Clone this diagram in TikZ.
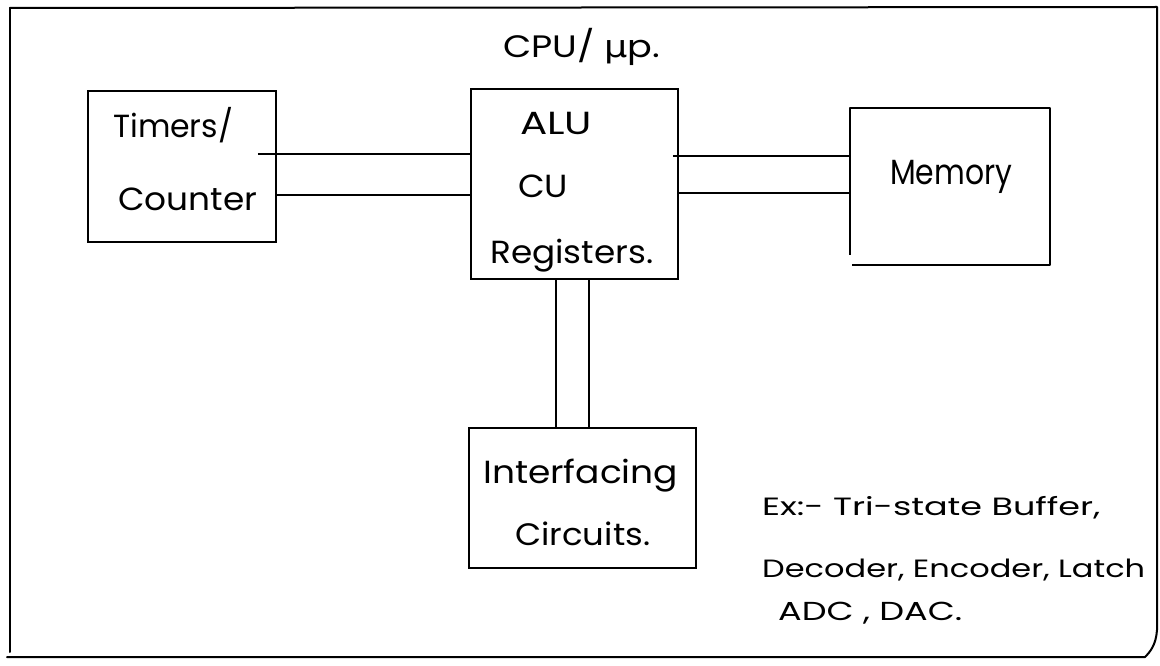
\documentclass[tikz,border=0pt]{standalone}
\usepackage{fontspec}
\usepackage{graphicx}
\setmainfont{Poppins}
\newfontfamily\dvsans{DejaVu Sans}
\usetikzlibrary{calc}
\newlength\hwlen
\newcommand\fitw[2]{\settowidth{\hwlen}{#2}\pgfmathsetmacro\hwr{#1/\hwlen}\scalebox{\hwr}[1]{#2}}
\tikzset{
  box/.style={draw, line width=1.8pt, inner sep=0pt, anchor=north west},
  boxline/.style={line width=1.8pt, line join=round},
  wire/.style={line width=1.5pt},
  frame/.style={line width=2pt, line cap=round, line join=round},
  lbl/.style={anchor=base west, inner sep=0pt, font=\fontsize{#1}{#1}\selectfont},
}
\begin{document}
\begin{tikzpicture}[x=1pt,y=-1pt]
\useasboundingbox[fill=white] (0,0) rectangle (1160,666);
% outer frame
\coordinate (ftl) at (10,8);
\coordinate (ftr) at (1157,7);
\coordinate (fbr) at (1145,657);
\coordinate (fbl) at (7,657);
\draw[frame] (ftl) -- (ftr) -- (1157,630) .. controls (1156,645) and (1150,652) .. (fbr) -- (fbl);
\draw[frame] (ftl) -- (10,652);
% boxes
\node[box, minimum width=188pt, minimum height=151pt] (tim) at (87,90) {};
\node[box, minimum width=207pt, minimum height=190pt] (cpu) at (470,88) {};
\node[box, draw=none, minimum width=198pt, minimum height=155pt] (mem) at (850,108) {};
\draw[boxline] ([yshift=10pt]mem.south west) -- (mem.north west) -- (mem.north east) -- (mem.south east) -- ([xshift=2pt]mem.south west);
\node[box, minimum width=227pt, minimum height=140pt] (int) at (468,427) {};
% connectors
\draw[wire] ($(tim.east|-0,154)+(-19,0)$) -- (cpu.west|-0,154);
\draw[wire] (tim.east|-0,195) -- (cpu.west|-0,195);
\draw[wire] ($(cpu.east|-0,156)+(-6,0)$) -- (mem.west|-0,156);
\draw[wire] (cpu.east|-0,193) -- (mem.west|-0,193);
\draw[wire] (cpu.south-|556,0) -- (int.north-|556,0);
\draw[wire] (cpu.south-|589,0) -- (int.north-|589,0);
% labels
\node[lbl=32] (tTimers) at (113,138) {\fitw{120pt}{Timers/}};
\node[lbl=32] (tCounter) at (118,211) {\fitw{139pt}{Counter}};
\node[lbl=31] (tCPU) at (503,58) {\fitw{157pt}{CPU/ {\dvsans μ}p.}};
\node[lbl=32] (tALU) at (520,135) {\fitw{72pt}{ALU}};
\node[lbl=32] (tCU) at (518,197) {\fitw{50pt}{CU}};
\node[lbl=32] (tReg) at (490,263) {\fitw{163pt}{Registers.}};
\node[lbl=35] (tMem) at (890,185) {\fitw{122pt}{Memory}};
\node[lbl=32] (tInt) at (483,483) {\fitw{195pt}{Interfacing}};
\node[lbl=31] (tCirc) at (515,545) {\fitw{135pt}{Circuits.}};
\node[lbl=25] (tEx1) at (762,515) {\fitw{338pt}{Ex:- Tri-state Buffer,}};
\node[lbl=25] (tEx2) at (762,577) {\fitw{383pt}{Decoder, Encoder, Latch}};
\node[lbl=26] (tEx3) at (778,620) {\fitw{184pt}{ADC , DAC.}};
\end{tikzpicture}
\end{document}
